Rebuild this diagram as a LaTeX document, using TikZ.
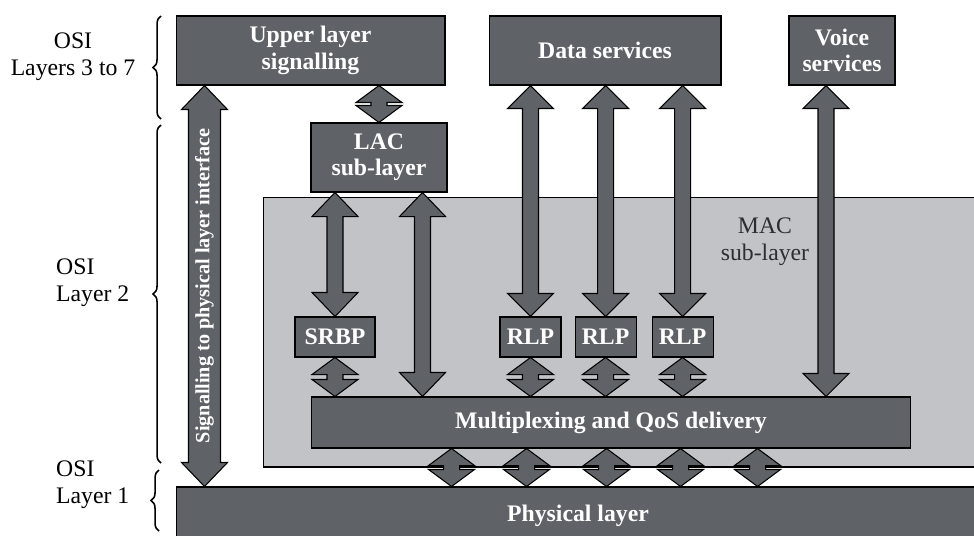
\documentclass[tikz,border=0pt]{standalone}
\usepackage{fontspec}
\setmainfont{Liberation Serif}
\usetikzlibrary{positioning}
\usetikzlibrary{calc}
\usetikzlibrary{decorations.pathreplacing}
\definecolor{color-box}{RGB}{95,99,104}
\definecolor{color-mac}{RGB}{194,195,199}
\definecolor{color-mactext}{RGB}{45,45,45}
% block arrow with two heads: top tip, bottom tip, head length, half shaft width
\newcommand{\blockarrow}[4]{%
\draw[arrowbody] (#1) -- ++(-23,#3) -- ++({23-#4},0) -- ($(#2)+(-#4,-#3)$) -- ++({#4-23},0) -- (#2) -- ++(23,-#3) -- ++({#4-23},0) -- ($(#1)+(#4,#3)$) -- ++({23-#4},0) -- cycle;}

\begin{document}
\begin{tikzpicture}[x=0.02cm, y=-0.02cm,
box/.style={draw=black, line width=0.6pt, fill=color-box, text=white, font=\fontsize{13.5}{15}\selectfont\bfseries, align=center, inner sep=0pt},
macbox/.style={draw=black, line width=0.6pt, fill=color-mac, inner sep=0pt},
arrowbody/.style={draw=black, line width=0.6pt, fill=color-box},
brace/.style={decorate, decoration={brace, amplitude=4.5pt}, line width=0.9pt},
osi/.style={font=\fontsize{13.5}{15.5}\selectfont, align=center}]

\useasboundingbox (0,0) rectangle (974,535);
\clip (0,0) rectangle (974,535);

%% MAC region
\node [macbox, minimum width=14.74cm, minimum height=5.4cm] (mac) at (631.5,332) {};
\node [font=\fontsize{13.5}{15.5}\selectfont, text=color-mactext, align=center] (maclabel) at (765,242) {MAC\\sub-layer};

\node [box, minimum width=5.38cm, minimum height=1.38cm] (upper) at (310.5,50.5) {Upper layer\\signalling};
\node [box, minimum width=4.64cm, minimum height=1.38cm] (data) at (605,50.5) {Data services};
\node [box, minimum width=2.12cm, minimum height=1.38cm, right=1.34cm of data] (voice) {Voice\\services};
\node [box, minimum width=2.72cm, minimum height=1.38cm] (lac) at (379,157.5) {LAC\\sub-layer};
\node [box, minimum width=1.6cm, minimum height=0.8cm] (srbp) at (335,337) {SRBP};
\node [box, minimum width=1.22cm, minimum height=0.8cm] (rlpa) at (530.5,337) {RLP};
\node [box, minimum width=1.22cm, minimum height=0.8cm, right=0.26cm of rlpa] (rlpb) {RLP};
\node [box, minimum width=1.22cm, minimum height=0.8cm, right=0.3cm of rlpb] (rlpc) {RLP};
\node [box, minimum width=12cm, minimum height=1.02cm] (mux) at (611,422.5) {Multiplexing and QoS delivery};
\node [box, minimum width=16.08cm, minimum height=1.16cm] (phys) at (578,516) {Physical layer};

%% signalling arrow
\path (upper.south west) ++(29,0) coordinate (sigtop);
\path (sigtop |- phys.north) coordinate (sigbot);
\blockarrow{sigtop}{sigbot}{24}{16}
\node [rotate=90, text=white, font=\fontsize{11.5}{13}\selectfont\bfseries] (sigtext) at ($(sigtop)!0.5!(sigbot)$) {Signalling to physical layer interface};

%% upper -- lac
\path (lac.north |- upper.south) coordinate (ul);
\blockarrow{ul}{lac.north}{17}{8}

%% lac -- srbp, lac -- mux
\path (srbp.north |- lac.south) coordinate (ls);
\blockarrow{ls}{srbp.north}{24}{8}
\path (lac.south east) ++(-25,0) coordinate (lm);
\path (lm |- mux.north) coordinate (lmb);
\blockarrow{lm}{lmb}{24}{8}

%% data -- rlp
\foreach \r in {rlpa,rlpb,rlpc}{
\path (\r.north |- data.south) coordinate (dr);
\blockarrow{dr}{\r.north}{23}{8}
\path (\r.south |- mux.north) coordinate (rm);
\blockarrow{\r.south}{rm}{17}{8}
}
\path (srbp.south |- mux.north) coordinate (sm);
\blockarrow{srbp.south}{sm}{17}{8}

%% voice -- mux
\path (voice.south) ++(-16,0) coordinate (vt);
\path (vt |- mux.north) coordinate (vm);
\blockarrow{vt}{vm}{23}{8}

%% mux -- physical
\foreach \dx in {141,216,296,370,447}{
\path (mux.south west) ++(\dx,0) coordinate (mp);
\path (mp |- phys.north) coordinate (pm);
\blockarrow{mp}{pm}{17}{8}
}

%% OSI braces
\draw [brace] (161,119) -- (161,16);
\draw [brace] (161,463) -- (161,125);
\draw [brace] (159,531) -- (159,470);
\node [osi] (ositop) at (73,57) {OSI\\Layers 3 to 7};
\node [osi, align=left, anchor=west] (osimid) at (50,283) {OSI\\Layer 2};
\node [osi, align=left, anchor=west] (osibot) at (50,485) {OSI\\Layer 1};

\end{tikzpicture}
\end{document}
